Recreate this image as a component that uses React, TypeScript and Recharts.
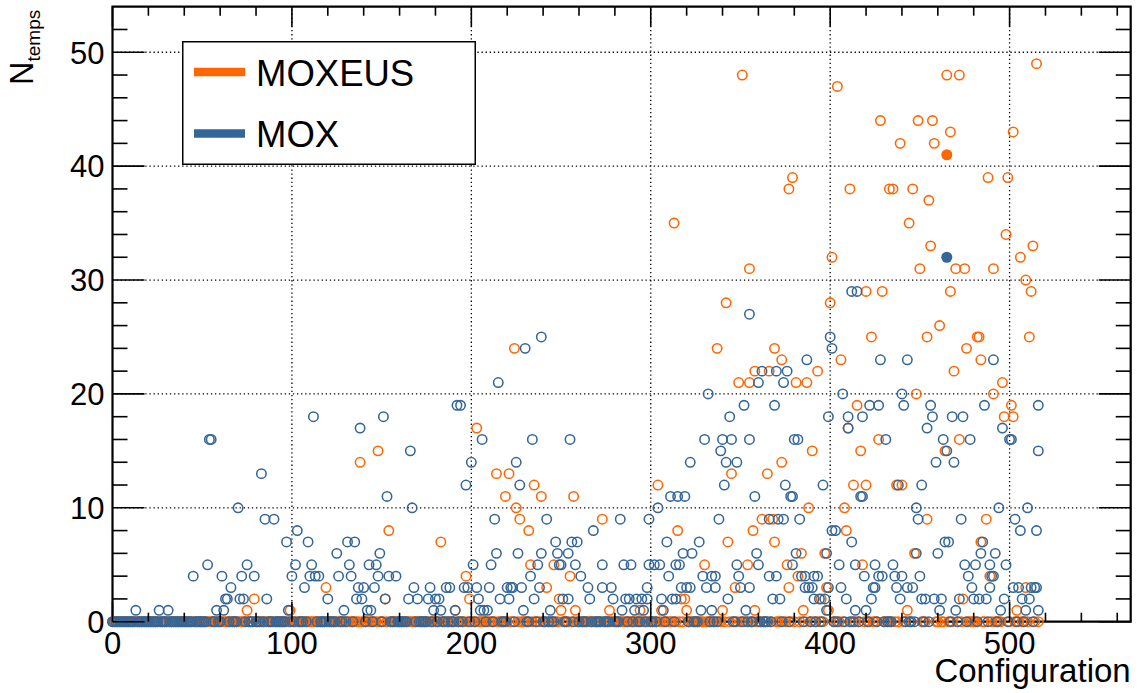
import React from 'react';
import { ScatterChart, Scatter, XAxis, YAxis, ReferenceLine, ReferenceArea, Legend } from 'recharts';

// ---------- data ----------
const CONFIG_COUNT = 517; // configurations 0..516

const X_MAX = 567.5;
const Y_MAX = 54;
const X_TICKS = [0, 20, 40, 60, 80, 100, 120, 140, 160, 180, 200, 220, 240, 260, 280, 300, 320, 340, 360, 380, 400, 420, 440, 460, 480, 500, 520, 540, 560];
const Y_TICKS = [0, 2, 4, 6, 8, 10, 12, 14, 16, 18, 20, 22, 24, 26, 28, 30, 32, 34, 36, 38, 40, 42, 44, 46, 48, 50, 52];
const X_GRID = [100, 200, 300, 400, 500];
const Y_GRID = [10, 20, 30, 40, 50];
const SERIES_NAMES = ['MOXEUS', 'MOX'];

// [configuration, N_temps] for the non-zero MOXEUS points
const MOXEUS_NONZERO: [number, number][] = [
  [351, 48], [404, 47], [465, 48], [472, 48], [515, 49],
  [428, 44], [449, 44], [457, 44], [467, 43], [502, 43], [439, 42], [458, 42],
  [379, 39], [488, 39], [499, 39], [377, 38], [411, 38], [433, 38], [435, 38], [446, 38], [455, 37],
  [313, 35], [444, 35], [498, 34], [456, 33], [513, 33], [401, 32], [506, 32],
  [355, 31], [450, 31], [470, 31], [475, 31], [491, 31], [509, 30],
  [420, 29], [429, 29], [467, 29], [512, 29], [342, 28], [400, 28], [461, 26],
  [423, 25], [454, 25], [482, 25], [483, 25], [511, 25],
  [224, 24], [337, 24], [369, 24], [476, 24],
  [373, 23], [406, 23], [484, 23],
  [358, 22], [366, 22], [393, 22], [469, 22],
  [349, 21], [355, 21], [381, 21], [387, 21], [496, 21],
  [448, 20], [491, 20], [415, 19], [501, 19], [497, 18], [502, 18],
  [203, 17], [410, 17], [427, 16], [472, 16],
  [148, 15], [390, 15], [417, 15], [464, 15], [138, 14], [373, 14],
  [214, 13], [221, 13], [345, 13], [365, 13],
  [235, 12], [304, 12], [413, 12], [420, 12], [437, 12], [440, 12],
  [219, 11], [239, 11], [257, 11], [225, 10], [388, 10], [408, 10],
  [227, 9], [273, 9], [362, 9], [368, 9], [454, 9], [487, 9],
  [154, 8], [232, 8], [315, 8], [357, 8], [409, 8],
  [183, 7], [343, 7], [369, 7], [484, 7], [384, 6], [397, 6], [447, 6],
  [233, 5], [246, 5], [330, 5], [354, 5], [376, 5], [418, 5],
  [197, 4], [255, 4], [382, 4], [489, 4],
  [119, 3], [242, 3], [347, 3], [377, 3], [398, 3], [509, 3],
  [79, 2], [152, 2], [199, 2], [249, 2], [317, 2], [319, 2], [395, 2], [474, 2],
  [75, 1], [99, 1], [191, 1], [250, 1], [258, 1], [277, 1], [294, 1], [306, 1], [320, 1],
  [340, 1], [358, 1], [385, 1], [399, 1], [443, 1], [504, 1],
];

// [configuration, N_temps] for the non-zero MOX points
const MOX_NONZERO: [number, number][] = [
  [13, 1], [26, 1], [31, 1], [45, 4], [53, 5], [54, 16], [55, 16], [58, 1], [61, 4], [62, 1],
  [63, 2], [64, 2], [66, 3], [70, 10], [71, 2], [72, 4], [73, 2], [75, 5], [79, 4], [83, 13],
  [85, 9], [86, 2], [90, 9], [97, 7], [98, 1],
  [100, 4], [102, 5], [103, 8], [107, 3], [109, 7], [110, 4], [111, 5], [112, 18], [113, 4], [115, 4],
  [120, 2], [125, 6], [126, 4], [129, 1], [131, 7], [132, 5], [133, 4], [135, 7], [136, 2], [137, 3],
  [138, 17], [139, 2], [140, 3], [142, 1], [143, 5], [144, 1], [146, 3], [147, 5], [148, 4], [149, 6],
  [151, 18], [152, 2], [153, 11], [154, 4], [158, 4], [165, 2], [166, 15], [167, 10], [168, 3], [170, 2],
  [176, 2], [177, 3], [179, 1], [180, 2], [182, 2], [183, 1], [186, 3], [188, 3], [191, 1], [192, 19],
  [194, 19], [196, 3], [197, 12], [198, 3], [200, 14],
  [201, 5], [203, 3], [204, 2], [205, 1], [206, 16], [207, 1], [209, 1], [210, 3], [211, 5], [213, 9],
  [214, 6], [215, 21], [216, 2], [220, 3], [221, 2], [222, 3], [223, 3], [225, 14], [226, 6], [227, 12],
  [228, 3], [229, 1], [230, 24], [233, 4], [234, 16], [235, 2], [237, 5], [238, 3], [239, 6], [239, 25],
  [242, 9], [244, 1], [247, 7], [248, 6], [249, 5], [250, 5], [251, 2], [254, 2], [254, 6], [255, 16],
  [256, 7], [258, 5], [259, 7], [261, 4], [265, 3], [266, 2], [268, 8], [273, 3], [273, 5], [278, 3],
  [279, 2], [283, 9], [284, 1], [285, 5], [286, 2], [288, 2], [289, 5], [291, 1], [292, 2], [295, 2],
  [296, 1], [298, 3], [298, 2], [299, 9], [299, 5],
  [302, 5], [304, 10], [305, 5], [306, 2], [307, 1], [309, 7], [310, 4], [311, 11], [312, 2], [314, 5],
  [314, 2], [315, 11], [316, 5], [317, 3], [318, 6], [319, 11], [320, 3], [322, 14], [322, 3], [323, 6],
  [327, 7], [328, 1], [329, 4], [330, 16], [331, 3], [332, 20], [334, 4], [334, 1], [336, 4], [336, 3],
  [338, 9], [339, 15], [340, 16], [341, 12], [342, 14], [343, 2], [344, 18], [345, 16], [348, 14], [348, 5],
  [349, 4], [350, 3], [352, 19], [353, 1], [355, 16], [355, 3], [355, 27], [358, 11], [359, 6], [360, 5],
  [360, 21], [362, 22], [366, 9], [366, 4], [368, 2], [369, 19], [370, 4], [370, 22], [371, 9], [372, 2],
  [374, 9], [374, 21], [375, 12], [376, 22], [378, 11], [379, 11], [379, 5], [380, 16], [381, 6], [382, 16],
  [383, 9], [384, 4], [386, 4], [386, 3], [387, 23], [388, 3], [390, 3], [391, 4], [391, 2], [393, 4],
  [394, 2], [396, 12], [397, 2], [398, 6], [398, 1], [399, 18], [399, 3], [400, 25], [401, 24], [401, 8],
  [403, 8], [405, 5], [406, 3], [407, 20], [409, 2], [410, 18], [410, 17], [412, 7], [412, 29], [414, 5],
  [414, 1], [415, 29], [417, 11], [418, 11], [418, 18], [419, 4], [420, 1], [422, 19], [423, 2], [424, 3],
  [425, 5], [425, 3], [427, 19], [427, 4], [428, 23], [429, 4], [431, 16], [435, 5], [436, 4], [437, 3],
  [438, 12], [439, 2], [440, 20], [440, 4], [441, 19], [443, 23], [443, 3], [446, 3], [448, 10], [448, 6],
  [449, 9], [450, 4], [451, 12], [451, 2], [453, 2], [454, 17], [456, 19], [457, 18], [458, 2], [459, 14],
  [460, 6], [461, 1], [462, 2], [463, 16], [464, 7], [465, 15], [466, 7], [468, 18], [469, 14], [470, 1],
  [472, 2], [473, 9], [474, 18], [475, 5], [477, 4], [478, 16], [479, 3], [480, 2], [481, 5], [483, 2],
  [484, 6], [485, 7], [486, 19], [487, 2], [489, 5], [489, 3], [490, 4], [491, 4], [491, 23], [492, 6],
  [494, 10], [495, 1], [496, 17], [497, 2], [498, 5], [500, 16], [501, 16],
  [502, 3], [503, 9], [505, 3], [506, 8], [507, 2], [509, 1], [510, 10], [511, 2], [512, 3], [514, 3],
  [515, 8], [515, 3], [516, 15], [516, 19], [516, 1],
];

// highlighted (filled) configuration
const MOXEUS_SELECTED: [number, number][] = [[465, 41]];
const MOX_SELECTED: [number, number][] = [[465, 32]];

// ---------- styling ----------
const ORANGE = '#ff6600';
const BLUE = '#336699';
const FONT = '"Liberation Sans", Arial, Helvetica, sans-serif';

const CHART_W = 1140;
const CHART_H = 693;
const X_AXIS_H = 40;
const Y_AXIS_W = 60;
const PLOT_TOP = 6.7;
const PLOT_BOTTOM = 621.7;
const PLOT_LEFT = 112.5;
const PLOT_RIGHT = 1130.7;
const MARGIN = {
  top: PLOT_TOP,
  right: CHART_W - PLOT_RIGHT,
  bottom: CHART_H - PLOT_BOTTOM - X_AXIS_H,
  left: PLOT_LEFT - Y_AXIS_W,
};

function buildSeries(nonzero: [number, number][]) {
  const used = new Set(nonzero.map((p) => p[0]));
  const zeros: { x: number; y: number }[] = [];
  for (let c = 0; c < CONFIG_COUNT; c++) {
    if (!used.has(c)) zeros.push({ x: c, y: 0 });
  }
  return zeros.concat(nonzero.map(([x, y]) => ({ x, y })));
}

const moxeusData = buildSeries(MOXEUS_NONZERO);
const moxData = buildSeries(MOX_NONZERO);
const moxeusSel = MOXEUS_SELECTED.map(([x, y]) => ({ x, y }));
const moxSel = MOX_SELECTED.map(([x, y]) => ({ x, y }));

const openCircle = (color: string) => (p: any) => (
  <circle cx={p.cx} cy={p.cy} r={4.7} fill="none" stroke={color} strokeWidth={1.55} />
);
const filledCircle = (color: string) => (p: any) => (
  <circle cx={p.cx} cy={p.cy} r={5.5} fill={color} stroke="none" />
);

const XTick = (props: any) => {
  const { x, payload } = props;
  const v = payload.value;
  const major = v % 100 === 0;
  const len = major ? 20 : 9;
  return (
    <g>
      <line x1={x} x2={x} y1={PLOT_BOTTOM} y2={PLOT_BOTTOM - len} stroke="#000" strokeWidth={1.6} />
      <line x1={x} x2={x} y1={PLOT_TOP} y2={PLOT_TOP + len} stroke="#000" strokeWidth={1.6} />
      {major && (
        <text x={x} y={PLOT_BOTTOM + 32.3} textAnchor="middle" fontSize={31} fontFamily={FONT} fill="#000">
          {v}
        </text>
      )}
    </g>
  );
};

const YTick = (props: any) => {
  const { y, payload } = props;
  const v = payload.value;
  const major = v % 10 === 0;
  const len = major ? 32 : 15;
  return (
    <g>
      <line x1={PLOT_LEFT} x2={PLOT_LEFT + len} y1={y} y2={y} stroke="#000" strokeWidth={1.6} />
      <line x1={PLOT_RIGHT} x2={PLOT_RIGHT - len} y1={y} y2={y} stroke="#000" strokeWidth={1.6} />
      {major && (
        <text x={PLOT_LEFT - 8} y={y + 11.3} textAnchor="end" fontSize={31} fontFamily={FONT} fill="#000">
          {v}
        </text>
      )}
    </g>
  );
};

const XTitle = () => (
  <text x={PLOT_RIGHT} y={681.7} textAnchor="end" fontSize={33} fontFamily={FONT} fill="#000">
    Configuration
  </text>
);

const YTitle = () => (
  <text transform="translate(33.3,85) rotate(-90)" fontSize={32.5} fontFamily={FONT} fill="#000">
    N
    <tspan fontSize={19} dy={7}>temps</tspan>
  </text>
);

const LegendBox = (props: any) => {
  const payload = props.payload || [];
  const items = SERIES_NAMES.map((n) => payload.find((e: any) => e.value === n)).filter(Boolean);
  const rows = [
    { lineY: 31, textY: 44.7 },
    { lineY: 92.5, textY: 105.7 },
  ];
  return (
    <svg width={294} height={124} style={{ display: 'block' }}>
      <rect x={0.75} y={0.75} width={292.5} height={122.5} fill="#fff" stroke="#000" strokeWidth={1.5} />
      {items.map((e: any, i: number) => (
        <g key={e.value}>
          <line x1={12} x2={63} y1={rows[i].lineY} y2={rows[i].lineY} stroke={e.color} strokeWidth={8.3} />
          <text x={74} y={rows[i].textY} fontSize={36.5} fontFamily={FONT} fill="#000">
            {e.value}
          </text>
        </g>
      ))}
    </svg>
  );
};

export default function App() {
  return (
    <div style={{ width: CHART_W, height: CHART_H, background: '#fff' }}>
      <style>{'body{margin:0;background:#fff;}'}</style>
      <ScatterChart width={CHART_W} height={CHART_H} margin={MARGIN}>
        <XAxis
          type="number"
          dataKey="x"
          domain={[0, X_MAX]}
          ticks={X_TICKS}
          interval={0}
          height={X_AXIS_H}
          tickSize={0}
          tickMargin={0}
          axisLine={false}
          tickLine={false}
          tick={(p: any) => <XTick {...p} />}
          label={(p: any) => <XTitle {...p} />}
        />
        <YAxis
          type="number"
          dataKey="y"
          domain={[0, Y_MAX]}
          ticks={Y_TICKS}
          interval={0}
          width={Y_AXIS_W}
          tickSize={0}
          tickMargin={0}
          axisLine={false}
          tickLine={false}
          tick={(p: any) => <YTick {...p} />}
          label={() => <YTitle />}
        />
        {X_GRID.map((v) => (
          <ReferenceLine key={'gx' + v} x={v} stroke="#000" strokeWidth={1.3} strokeDasharray="1.3 2.8" />
        ))}
        {Y_GRID.map((v) => (
          <ReferenceLine key={'gy' + v} y={v} stroke="#000" strokeWidth={1.3} strokeDasharray="1.3 2.8" />
        ))}
        <ReferenceArea x1={0} x2={X_MAX} y1={0} y2={Y_MAX} fill="none" fillOpacity={0} stroke="#000" strokeWidth={2.2} />
        <Legend
          layout="horizontal"
          verticalAlign="middle"
          align="center"
          wrapperStyle={{ left: 182, top: 40.5, width: 294, height: 124 }}
          content={(p: any) => <LegendBox {...p} />}
        />
        <Scatter name="MOXEUS" data={moxeusData} fill={ORANGE} isAnimationActive={false} shape={openCircle(ORANGE)} />
        <Scatter name="MOX" data={moxData} fill={BLUE} isAnimationActive={false} shape={openCircle(BLUE)} />
        <Scatter name="MOXEUS selected" data={moxeusSel} fill={ORANGE} legendType="none" isAnimationActive={false} shape={filledCircle(ORANGE)} />
        <Scatter name="MOX selected" data={moxSel} fill={BLUE} legendType="none" isAnimationActive={false} shape={filledCircle(BLUE)} />
      </ScatterChart>
    </div>
  );
}
